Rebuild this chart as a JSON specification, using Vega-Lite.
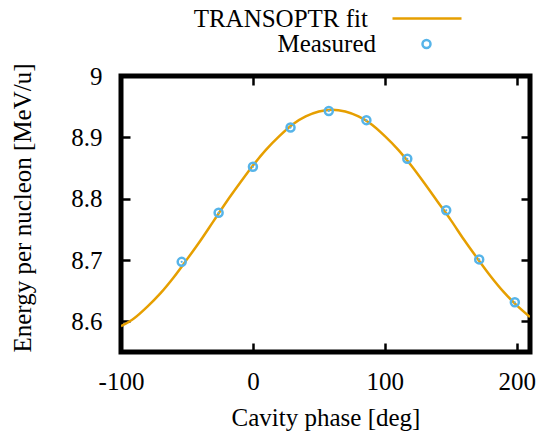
{
  "$schema": "https://vega.github.io/schema/vega-lite/v6.json",
  "width": 409,
  "height": 276,
  "autosize": {"type": "none"},
  "padding": {"left": 121, "top": 76, "right": 9, "bottom": 80},
  "background": "white",
  "config": {
    "view": {"stroke": "black", "strokeWidth": 5},
    "font": "Liberation Serif",
    "style": {
      "guide-label": {"font": "Liberation Serif", "fontSize": 25, "fill": "black"},
      "guide-title": {"font": "Liberation Serif", "fontSize": 25, "fill": "black", "fontWeight": "normal"}
    },
    "axis": {
      "domain": false,
      "grid": false,
      "ticks": true,
      "tickColor": "black",
      "tickWidth": 2.5,
      "tickSize": -9,
      "labelFont": "Liberation Serif",
      "labelFontSize": 25,
      "labelColor": "black",
      "titleFont": "Liberation Serif",
      "titleFontSize": 25,
      "titleFontWeight": "normal",
      "titleColor": "black"
    },
    "legend": {
      "orient": "none",
      "padding": 0,
      "labelFont": "Liberation Serif",
      "labelFontSize": 25,
      "labelColor": "black",
      "labelAlign": "right",
      "labelLimit": 300
    }
  },
  "datasets": {
    "fit": [
      {"phase": -100, "energy": 8.592},
      {"phase": -90, "energy": 8.605},
      {"phase": -80, "energy": 8.624},
      {"phase": -70, "energy": 8.646},
      {"phase": -60, "energy": 8.672},
      {"phase": -50, "energy": 8.701},
      {"phase": -40, "energy": 8.731},
      {"phase": -30, "energy": 8.763},
      {"phase": -20, "energy": 8.795},
      {"phase": -10, "energy": 8.825},
      {"phase": 0, "energy": 8.854},
      {"phase": 10, "energy": 8.880},
      {"phase": 20, "energy": 8.902},
      {"phase": 30, "energy": 8.921},
      {"phase": 40, "energy": 8.934},
      {"phase": 50, "energy": 8.942},
      {"phase": 60, "energy": 8.945},
      {"phase": 70, "energy": 8.942},
      {"phase": 80, "energy": 8.934},
      {"phase": 90, "energy": 8.921},
      {"phase": 100, "energy": 8.902},
      {"phase": 110, "energy": 8.880},
      {"phase": 120, "energy": 8.854},
      {"phase": 130, "energy": 8.825},
      {"phase": 140, "energy": 8.795},
      {"phase": 150, "energy": 8.765},
      {"phase": 160, "energy": 8.733},
      {"phase": 170, "energy": 8.703},
      {"phase": 180, "energy": 8.674},
      {"phase": 190, "energy": 8.648},
      {"phase": 200, "energy": 8.626},
      {"phase": 210, "energy": 8.607}
    ],
    "meas": [
      {"phase": -54, "energy": 8.697},
      {"phase": -26, "energy": 8.777},
      {"phase": 0, "energy": 8.852},
      {"phase": 28.5, "energy": 8.916},
      {"phase": 57.5, "energy": 8.943},
      {"phase": 86, "energy": 8.928},
      {"phase": 117, "energy": 8.865},
      {"phase": 146.5, "energy": 8.781},
      {"phase": 171.5, "energy": 8.701},
      {"phase": 198.5, "energy": 8.631}
    ]
  },
  "resolve": {
    "axis": {"x": "independent", "y": "independent"},
    "legend": {"stroke": "independent", "shape": "independent"}
  },
  "layer": [
    {
      "data": {"name": "fit"},
      "mark": {"type": "line", "color": "#e69f00", "strokeWidth": 2.5, "interpolate": "monotone", "clip": true},
      "encoding": {
        "x": {
          "field": "phase", "type": "quantitative",
          "scale": {"domain": [-100, 210], "nice": false, "zero": false},
          "axis": {"orient": "bottom", "values": [-100, 0, 100, 200], "labelExpr": "'' + datum.value", "labelFlush": false, "labelFont": "Liberation Serif", "titleFont": "Liberation Serif", "labelPadding": 26, "title": "Cavity phase [deg]", "titleBaseline": "alphabetic", "titleY": 73}
        },
        "y": {
          "field": "energy", "type": "quantitative",
          "scale": {"domain": [8.55, 9], "nice": false, "zero": false},
          "axis": {"orient": "left", "values": [8.6, 8.7, 8.8, 8.9, 9], "format": "~g", "labelFlush": false, "labelFont": "Liberation Serif", "titleFont": "Liberation Serif", "labelPadding": 28, "title": "Energy per nucleon [MeV/u]", "titleBaseline": "middle", "titleX": -99, "titleY": 131.5}
        },
        "stroke": {
          "datum": "TRANSOPTR fit",
          "scale": {"range": ["#e69f00"]},
          "legend": {"title": null, "labelFont": "Liberation Serif", "legendX": 270, "legendY": -93.5, "symbolType": "stroke", "symbolSize": 4761, "symbolStrokeWidth": 2.5, "symbolStrokeColor": "#e69f00", "labelOffset": -95}
        }
      }
    },
    {
      "data": {"name": "meas"},
      "mark": {"type": "point", "filled": false, "strokeWidth": 2.5, "size": 64, "color": "#56b4e9", "opacity": 1},
      "encoding": {
        "x": {"field": "phase", "type": "quantitative", "axis": {"orient": "top", "values": [-100, 0, 100, 200], "labels": false, "title": null}},
        "y": {"field": "energy", "type": "quantitative", "axis": {"orient": "right", "values": [8.6, 8.7, 8.8, 8.9, 9], "labels": false, "title": null}},
        "shape": {
          "datum": "Measured",
          "scale": {"range": ["circle"]},
          "legend": {"title": null, "labelFont": "Liberation Serif", "legendX": 293, "legendY": -44.5, "symbolType": "circle", "symbolSize": 64, "symbolStrokeWidth": 2.5, "symbolStrokeColor": "#56b4e9", "symbolFillColor": "transparent", "labelOffset": -63}
        }
      }
    },
    {
      "data": {"name": "meas"},
      "mark": {"type": "point", "filled": true, "size": 5, "color": "#56b4e9", "opacity": 1},
      "encoding": {
        "x": {"field": "phase", "type": "quantitative", "axis": null},
        "y": {"field": "energy", "type": "quantitative", "axis": null}
      }
    }
  ]
}
